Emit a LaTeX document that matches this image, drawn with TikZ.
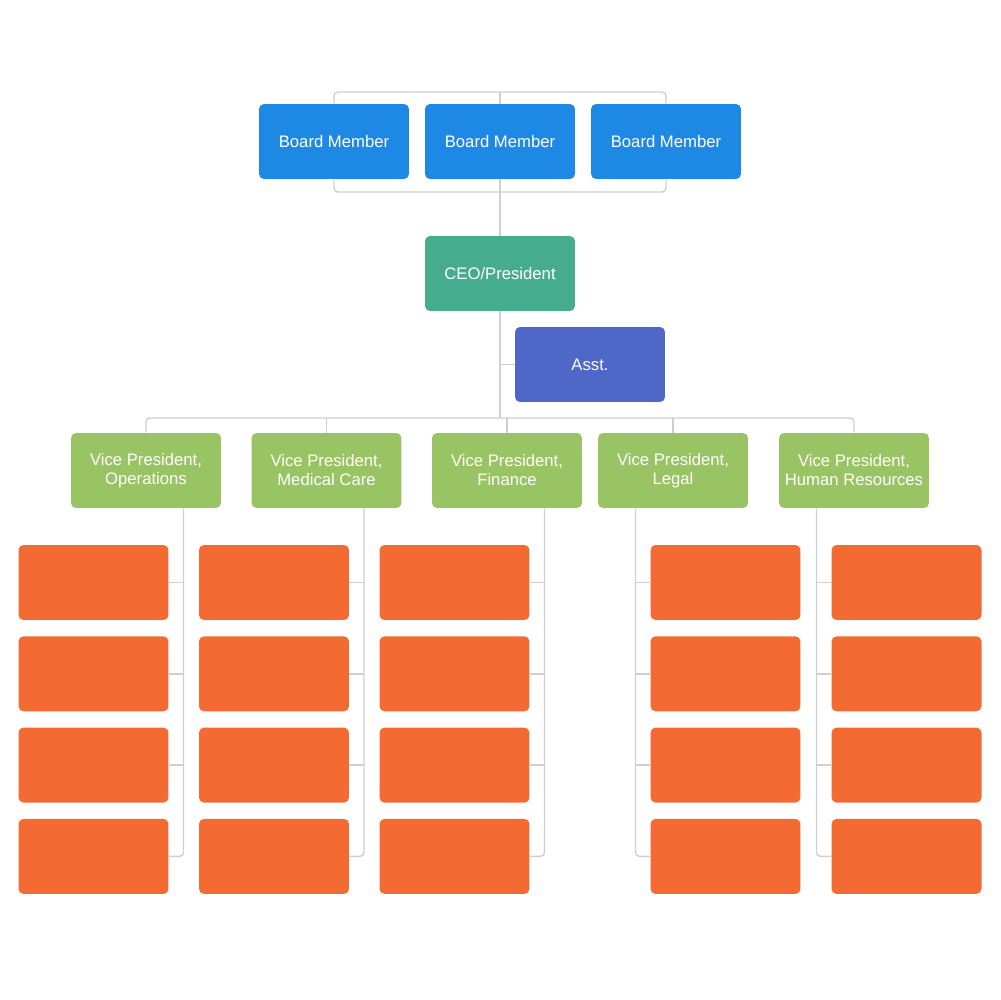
\documentclass[tikz,border=0pt]{standalone}
\usepackage{fontspec}
\setmainfont{Liberation Sans}
\usetikzlibrary{backgrounds}

\definecolor{boardblue}{HTML}{1E89E4}
\definecolor{ceoteal}{HTML}{45AC8D}
\definecolor{asstblue}{HTML}{4F67C6}
\definecolor{vpgreen}{HTML}{99C463}
\definecolor{staffor}{HTML}{F36B33}
\definecolor{linegray}{HTML}{CFCFCF}

\tikzset{
	box/.style={rectangle, rounded corners=0.1cm, minimum width=3cm, minimum height=1.5cm,
		inner sep=0pt, text=white, align=center, font=\fontsize{9.5}{10.8}\selectfont},
	conn/.style={draw=linegray, line width=0.8pt, rounded corners=0.08cm}
}

\begin{document}
\begin{tikzpicture}[x=0.02cm,y=-0.02cm]
		\useasboundingbox (0,0) rectangle (1000,1000);

		% board
		\node[box, fill=boardblue] (b1) at (334,141.5) {Board Member};
		\node[box, fill=boardblue] (b2) at (500,141.5) {Board Member};
		\node[box, fill=boardblue] (b3) at (666,141.5) {Board Member};
		\coordinate (top) at (500,92);
		\coordinate (bot) at (500,192);

		\node[box, fill=ceoteal] (ceo) at (500,273.5) {CEO/President};
		\node[box, fill=asstblue] (asst) at (590,364.5) {Asst.};
		\coordinate (bus) at (500,418);

		% vice presidents and their staff
		\foreach \i/\x/\s/\txt in {1/146/1/{Vice President,\\Operations},
			2/326.5/1/{Vice President,\\Medical Care},
			3/507/1/{Vice President,\\Finance},
			4/673/-1/{Vice President,\\Legal},
			5/854/-1/{Vice President,\\Human Resources}}
		{
			\node[box, fill=vpgreen] (v\i) at (\x,470.5) {\txt};
			\coordinate (l\i) at ([xshift=\s*0.75cm]v\i.south);
			\foreach \k in {1,2,3,4}
			\node[box, fill=staffor] (o\i\k) at ({\x-\s*52.5},{582.5+91.3*(\k-1)}) {};
		}

		\begin{scope}[on background layer]
		\draw[conn] (b1.north) |- (top) -| (b3.north);
		\draw[conn] (b1.south) |- (bot) -| (b3.south);
		\draw[conn] (top) -- (ceo.north);
		\draw[conn] (ceo.south) -- (bus);
		\draw[conn] (ceo.south |- asst.west) -- (asst.west);
		\draw[conn] (v1.north) |- (bus) -| (v5.north);
		\draw[conn] (v2.north) -- (v2.north |- bus);
		\draw[conn] (v3.north) -- (v3.north |- bus);
		\draw[conn] (v4.north) -- (v4.north |- bus);

		\foreach \i in {1,...,5}
		{
			\draw[conn] (l\i) |- (o\i4);
			\foreach \k in {1,2,3}
			\draw[conn] (o\i\k) -- (o\i\k -| l\i);
		}
		\end{scope}
	\end{tikzpicture}
\end{document}
